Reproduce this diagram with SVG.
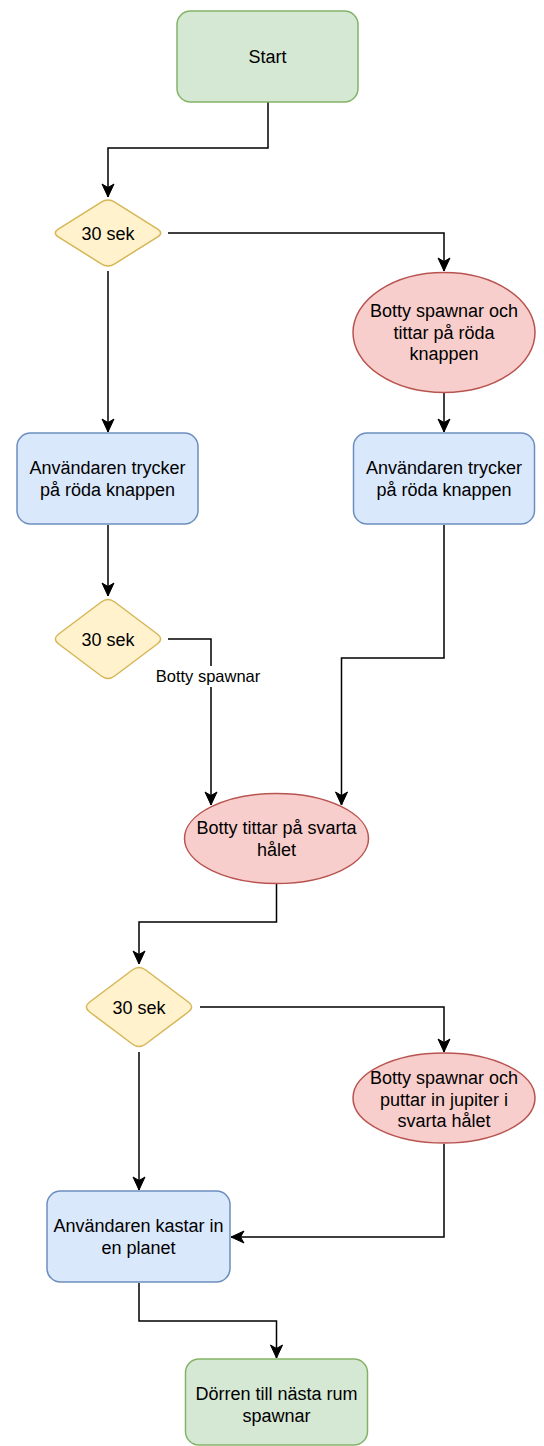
<svg xmlns="http://www.w3.org/2000/svg" width="544" height="1446" viewBox="0 0 544 1446">
<style>
.t{font-family:"Liberation Sans",Arial,Helvetica,sans-serif;font-size:18px;fill:#000;text-anchor:middle}
.lbl{font-family:"Liberation Sans",Arial,Helvetica,sans-serif;font-size:16.5px;fill:#000;text-anchor:middle}
.green{fill:#d5e8d4;stroke:#82b366;stroke-width:1.5}
.yellow{fill:#fff2cc;stroke:#d6b656;stroke-width:1.5}
.red{fill:#f8cecc;stroke:#b85450;stroke-width:1.5}
.blue{fill:#dae8fc;stroke:#6c8ebf;stroke-width:1.5}
.edge{fill:none;stroke:#000;stroke-width:1.5;marker-end:url(#arrow)}
</style>
<defs>
<marker id="arrow" markerUnits="userSpaceOnUse" viewBox="-14 -7 15 14" refX="0" refY="0" markerWidth="15" markerHeight="14" orient="auto" overflow="visible">
<path d="M -13 -6 L 0 0 L -13 6 L -9.5 0 Z" fill="#000" stroke="#000" stroke-width="1"/>
</marker>
</defs>
<rect width="544" height="1446" fill="#fff"/>
<g id="connectors">
<path class="edge" d="M 268 102 V 148 H 108 V 197"/>
<path class="edge" d="M 168 233 H 444 V 271"/>
<path class="edge" d="M 108 271 V 432"/>
<path class="edge" d="M 444 393 V 432"/>
<path class="edge" d="M 108 525 V 596"/>
<path class="edge" d="M 168 639 H 211 V 805"/>
<path class="edge" d="M 444 525 V 658 H 341.5 V 805"/>
<path class="edge" d="M 276.5 884 V 922 H 139 V 964"/>
<path class="edge" d="M 200 1007 H 444 V 1052"/>
<path class="edge" d="M 139 1052 V 1190"/>
<path class="edge" d="M 444 1144 V 1237 H 231"/>
<path class="edge" d="M 139 1283 V 1321 H 276.5 V 1358"/>
<g id="edge-label">
<rect x="153" y="666" width="110" height="21" fill="#fff"/>
<text class="lbl" x="208" y="682.3">Botty spawnar</text>
</g>
</g>
<g id="start">
<rect class="green" x="177" y="11" width="181" height="91" rx="13.5"/>
<text class="t" x="267.5" y="63">Start</text>
</g>
<g id="wait1">
<path class="yellow" d="M 114.7 202.2 L 157.3 228.8 Q 164 233 157.3 237.2 L 114.7 263.8 Q 108 268 101.3 263.8 L 58.7 237.2 Q 52 233 58.7 228.8 L 101.3 202.2 Q 108 198 114.7 202.2 Z"/>
<text class="t" x="108" y="239.5">30 sek</text>
</g>
<g id="botty-red-button">
<ellipse class="red" cx="444" cy="332.5" rx="91" ry="60"/>
<text class="t" x="444" y="317">Botty spawnar och</text>
<text class="t" x="444" y="338.6">tittar på röda</text>
<text class="t" x="444" y="360.2">knappen</text>
</g>
<g id="user-press-left">
<rect class="blue" x="17" y="433" width="181" height="91" rx="13.5"/>
<text class="t" x="107.5" y="474.2">Användaren trycker</text>
<text class="t" x="107.5" y="495.8">på röda knappen</text>
</g>
<g id="user-press-right">
<rect class="blue" x="353.5" y="433" width="181" height="91" rx="13.5"/>
<text class="t" x="444" y="474.2">Användaren trycker</text>
<text class="t" x="444" y="495.8">på röda knappen</text>
</g>
<g id="wait2">
<path class="yellow" d="M 114.7 602 L 157.3 634 Q 164 639 157.3 644 L 114.7 676 Q 108 681 101.3 676 L 58.7 644 Q 52 639 58.7 634 L 101.3 602 Q 108 597 114.7 602 Z"/>
<text class="t" x="108" y="645.5">30 sek</text>
</g>
<g id="botty-black-hole">
<ellipse class="red" cx="276.5" cy="838.5" rx="92" ry="45"/>
<text class="t" x="276.5" y="833.9">Botty tittar på svarta</text>
<text class="t" x="276.5" y="855.5">hålet</text>
</g>
<g id="wait3">
<path class="yellow" d="M 145.7 970 L 188.3 1002 Q 195 1007 188.3 1012 L 145.7 1044 Q 139 1049 132.3 1044 L 89.7 1012 Q 83 1007 89.7 1002 L 132.3 970 Q 139 965 145.7 970 Z"/>
<text class="t" x="139" y="1013.5">30 sek</text>
</g>
<g id="botty-jupiter">
<ellipse class="red" cx="444" cy="1098" rx="91" ry="45"/>
<text class="t" x="444" y="1083.9">Botty spawnar och</text>
<text class="t" x="444" y="1105.5">puttar in jupiter i</text>
<text class="t" x="444" y="1127.1">svarta hålet</text>
</g>
<g id="user-throw">
<rect class="blue" x="47" y="1191" width="183" height="91" rx="13.5"/>
<text class="t" x="138.5" y="1232.2">Användaren kastar in</text>
<text class="t" x="138.5" y="1253.8">en planet</text>
</g>
<g id="door">
<rect class="green" x="185.5" y="1359" width="182" height="86" rx="13.5"/>
<text class="t" x="276.5" y="1400">Dörren till nästa rum</text>
<text class="t" x="276.5" y="1422">spawnar</text>
</g>
</svg>
